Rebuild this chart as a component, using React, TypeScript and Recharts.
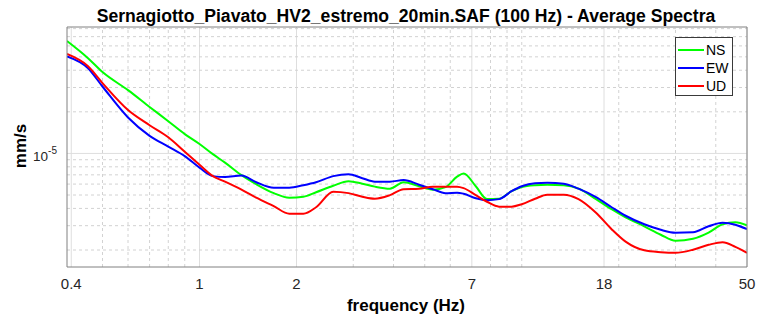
import React from 'react';
import { LineChart, Line, XAxis, YAxis, ReferenceLine } from 'recharts';

// frequency (Hz)
const freq = [
  0.388, 0.45, 0.5, 0.6, 0.7, 0.8, 0.9, 1.0, 1.1, 1.2, 1.35, 1.5, 1.7, 1.9,
  2.1, 2.3, 2.6, 2.9, 3.2, 3.5, 3.9, 4.3, 4.8, 5.3, 5.8, 6.3, 6.6, 7.2, 7.8,
  8.5, 9.3, 10, 11, 12, 13.5, 15, 17, 19, 21, 24, 27, 30, 34, 38, 42, 46, 50,
];

// amplitudes in 1e-6 mm/s
const ns = [
  65.1, 49.1, 38.8, 28.7, 21.7, 17.1, 13.8, 11.7, 9.88, 8.58, 6.96, 5.99, 5.16, 4.78,
  4.86, 5.24, 5.84, 6.3, 6.04, 5.75, 5.56, 6.19, 5.79, 5.47, 5.7, 6.79, 7.16, 5.79, 4.67,
  4.7, 5.33, 5.7, 5.89, 5.94, 5.89, 5.56, 4.67, 3.95, 3.45, 2.97, 2.58, 2.33, 2.41, 2.67, 3.07, 3.18, 3.02,
];
const ew = [
  50.3, 41.5, 30.5, 18.2, 13.4, 11.2, 9.56, 7.89, 6.85, 6.74, 6.91, 6.19, 5.65, 5.65,
  5.89, 6.19, 6.85, 7.08, 6.62, 6.25, 6.25, 6.41, 5.94, 5.51, 5.16, 5.2, 5.11, 4.74, 4.59,
  4.67, 5.33, 5.79, 6.09, 6.14, 6.04, 5.56, 4.82, 4.08, 3.54, 3.07, 2.8, 2.67, 2.69, 2.97, 3.15, 3.05, 2.83,
];
const ud = [
  52.4, 42.9, 32.3, 20.6, 16.0, 13.1, 10.3, 8.29, 6.85, 6.25, 5.47, 4.78, 4.15, 3.66,
  3.66, 4.08, 5.29, 5.16, 4.86, 4.7, 4.99, 5.51, 5.56, 5.75, 5.75, 5.75, 5.61, 4.99, 4.47,
  4.12, 4.12, 4.29, 4.7, 5.03, 5.03, 4.67, 3.72, 2.83, 2.3, 1.99, 1.93, 1.91, 2.01, 2.18, 2.28, 2.11, 1.91,
];

const xTicks = [0.4, 1, 2, 7, 18, 50];
const xMinor = [0.5, 0.6, 0.7, 0.8, 0.9, 3, 4, 5, 6, 8, 9, 10, 20, 30, 40];
const yTicks = [10];
const yMinor = [2, 3, 4, 5, 6, 7, 8, 9, 20, 30, 40, 50, 60, 70, 80];

const X_DOMAIN = [0.388, 50];
const Y_DOMAIN = [1.507, 82.2];

const TITLE = 'Sernagiotto_Piavato_HV2_estremo_20min.SAF (100 Hz) - Average Spectra';
const FONT = '"Liberation Sans", Arial, Helvetica, sans-serif';
const AXIS = '#808080';
const TEXT = '#262626';

const series = [
  { key: 'ns', name: 'NS', color: '#00ff00' },
  { key: 'ew', name: 'EW', color: '#0000ff' },
  { key: 'ud', name: 'UD', color: '#ff0000' },
];

const data = freq.map((f, i) => ({ f, ns: ns[i], ew: ew[i], ud: ud[i] }));

const allX = [...xTicks, ...xMinor].sort((a, b) => a - b);
const allY = [...yTicks, ...yMinor].sort((a, b) => a - b);

function PowerTick({ x, y, payload }: any) {
  const exp = Math.round(Math.log10(payload.value * 1e-6));
  return (
    <text x={x - 10} y={y + 8} textAnchor="end" fill={TEXT} fontFamily={FONT}>
      <tspan fontSize={13.5}>10</tspan>
      <tspan fontSize={10} dy={-7}>{exp}</tspan>
    </text>
  );
}

export default function App() {
  return (
    <div style={{ position: 'absolute', left: 0, top: 0, width: 757, height: 320, background: '#fff' }}>
      <LineChart width={757} height={320} data={data} margin={{ top: 27, right: 10, left: 0, bottom: 0 }}>
        <XAxis
          xAxisId="b"
          dataKey="f"
          type="number"
          scale="log"
          domain={X_DOMAIN}
          allowDataOverflow
          ticks={xTicks}
          interval={0}
          height={53}
          tickLine={false}
          tickSize={0}
          tickMargin={11}
          axisLine={{ stroke: AXIS }}
          tick={{ fill: TEXT, fontSize: 15, fontFamily: FONT }}
          tickFormatter={(v) => String(v)}
        />
        <XAxis
          xAxisId="t"
          orientation="top"
          mirror
          type="number"
          scale="log"
          domain={X_DOMAIN}
          allowDataOverflow
          ticks={allX}
          interval={0}
          tick={false}
          tickSize={4}
          tickLine={{ stroke: AXIS }}
          axisLine={{ stroke: AXIS }}
        />
        <XAxis
          xAxisId="bm"
          orientation="bottom"
          mirror
          type="number"
          scale="log"
          domain={X_DOMAIN}
          allowDataOverflow
          ticks={allX}
          interval={0}
          tick={false}
          tickSize={4}
          tickLine={{ stroke: AXIS }}
          axisLine={false}
        />
        <YAxis
          yAxisId="l"
          type="number"
          scale="log"
          domain={Y_DOMAIN}
          allowDataOverflow
          ticks={yTicks}
          interval={0}
          width={67}
          tickLine={false}
          tickSize={0}
          tickMargin={0}
          axisLine={{ stroke: AXIS }}
          tick={<PowerTick />}
        />
        <YAxis
          yAxisId="r"
          orientation="right"
          mirror
          type="number"
          scale="log"
          domain={Y_DOMAIN}
          allowDataOverflow
          ticks={allY}
          interval={0}
          tick={false}
          tickSize={4}
          tickLine={{ stroke: AXIS }}
          axisLine={{ stroke: AXIS }}
        />
        <YAxis
          yAxisId="lm"
          orientation="left"
          mirror
          type="number"
          scale="log"
          domain={Y_DOMAIN}
          allowDataOverflow
          ticks={allY}
          interval={0}
          tick={false}
          tickSize={4}
          tickLine={{ stroke: AXIS }}
          axisLine={false}
        />

        {xMinor.map((v) => (
          <ReferenceLine key={`xm${v}`} xAxisId="b" yAxisId="l" x={v} stroke="#d2d2d2" strokeDasharray="3 3" />
        ))}
        {xTicks.map((v) => (
          <ReferenceLine key={`xM${v}`} xAxisId="b" yAxisId="l" x={v} stroke="#dedede" />
        ))}
        {yMinor.map((v) => (
          <ReferenceLine key={`ym${v}`} xAxisId="b" yAxisId="l" y={v} stroke="#d2d2d2" strokeDasharray="3 3" />
        ))}
        {yTicks.map((v) => (
          <ReferenceLine key={`yM${v}`} xAxisId="b" yAxisId="l" y={v} stroke="#dedede" />
        ))}

        {series.map((s) => (
          <Line
            key={s.key}
            xAxisId="b"
            yAxisId="l"
            dataKey={s.key}
            name={s.name}
            type="monotone"
            stroke={s.color}
            strokeWidth={2}
            dot={false}
            activeDot={false}
            isAnimationActive={false}
          />
        ))}
      </LineChart>

      <svg
        width={757}
        height={320}
        style={{ position: 'absolute', left: 0, top: 0, pointerEvents: 'none' }}
        fontFamily={FONT}
      >
        <text x={406} y={21.5} textAnchor="middle" fontSize={17.6} fontWeight="bold" fill="#000">
          {TITLE}
        </text>
        <text x={406} y={311} textAnchor="middle" fontSize={17} fontWeight="bold" fill="#000">
          frequency (Hz)
        </text>
        <text
          x={25.5}
          y={146}
          textAnchor="middle"
          fontSize={17}
          fontWeight="bold"
          fill="#000"
          transform="rotate(-90 25.5 146)"
        >
          mm/s
        </text>

        <rect x={675.5} y={37.5} width={57} height={58} fill="#fff" stroke="#3a3a3a" strokeWidth={1} />
        {series.map((s, i) => (
          <g key={s.key}>
            <line x1={678} x2={704} y1={50 + i * 18} y2={50 + i * 18} stroke={s.color} strokeWidth={2} />
            <text x={706} y={55 + i * 18} fontSize={14} fill="#000">
              {s.name}
            </text>
          </g>
        ))}
      </svg>
    </div>
  );
}
